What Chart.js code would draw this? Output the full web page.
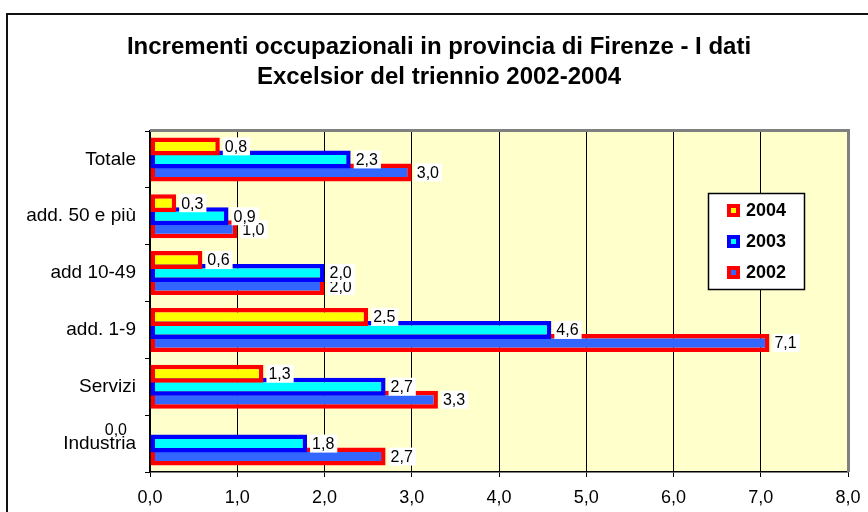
<!DOCTYPE html>
<html>
<head>
<meta charset="utf-8">
<script src="https://cdn.jsdelivr.net/npm/chart.js@4.4.0/dist/chart.umd.min.js"></script>
<style>
html,body{margin:0;padding:0;background:#fff;overflow:hidden;}
#wrap{width:868px;height:512px;}
</style>
</head>
<body>
<div id="wrap"><canvas id="chart" width="868" height="512"></canvas></div>
<script>
// ----- dati -----
const categorie = ["Totale", "add. 50 e più", "add 10-49", "add. 1-9", "Servizi", "Industria"];
const anno2004 = [0.8, 0.3, 0.6, 2.5, 1.3, 0.0];
const anno2003 = [2.3, 0.9, 2.0, 4.6, 2.7, 1.8];
const anno2002 = [3.0, 1.0, 2.0, 7.1, 3.3, 2.7];
const titolo = ["Incrementi occupazionali in provincia di Firenze - I dati", "Excelsior del triennio 2002-2004"];

const FONT = "'Liberation Sans', Arial, sans-serif";
const virgola = v => Number(v).toFixed(1).replace(".", ",");

// sfondo, cornice e bordo grigio dell'area
const sfondo = {
  id: "sfondo",
  afterLayout(c) {
    // lascia spazio alle etichette lunghe dell'asse y (niente taglio)
    const y = c.scales.y;
    y.left = 0;
    y.width = y.right;
  },
  beforeDraw(c) {
    const ctx = c.ctx, a = c.chartArea;
    ctx.save();
    ctx.fillStyle = "#fff";
    ctx.fillRect(0, 0, c.width, c.height);
    ctx.strokeStyle = "#111";
    ctx.lineWidth = 2;
    ctx.beginPath();
    ctx.moveTo(7, c.height + 5);
    ctx.lineTo(7, 14);
    ctx.lineTo(c.width + 5, 14);
    ctx.stroke();
    ctx.fillStyle = "#FFFFCC";
    ctx.fillRect(a.left, a.top, a.right - a.left, a.bottom - a.top);
    ctx.restore();
  },
  beforeDatasetsDraw(c) {
    const ctx = c.ctx, a = c.chartArea;
    ctx.save();
    ctx.strokeStyle = "#808080";
    ctx.lineWidth = 3;
    ctx.beginPath();
    ctx.moveTo(a.left, a.top - 0.5);
    ctx.lineTo(a.right + 0.5, a.top - 0.5);
    ctx.lineTo(a.right + 0.5, a.bottom);
    ctx.stroke();
    ctx.restore();
  }
};

// etichette con sfondo bianco (prima 2002, poi 2003, poi 2004)
const etichette = {
  id: "etichette",
  afterDatasetsDraw(c) {
    const ctx = c.ctx;
    ctx.save();
    ctx.font = "16px " + FONT;
    ctx.textBaseline = "middle";
    for (let d = c.data.datasets.length - 1; d >= 0; d--) {
      const meta = c.getDatasetMeta(d);
      meta.data.forEach((bar, i) => {
        const v = c.data.datasets[d].data[i];
        const txt = virgola(v);
        const w = ctx.measureText(txt).width;
        if (v === 0) {
          ctx.textAlign = "right";
          ctx.fillStyle = "#000";
          ctx.fillText(txt, bar.x - 23, bar.y);
          return;
        }
        ctx.fillStyle = "#fff";
        ctx.fillRect(bar.x + 3, bar.y - 9, w + 5, 18);
        ctx.textAlign = "left";
        ctx.fillStyle = "#000";
        ctx.fillText(txt, bar.x + 5, bar.y + 1);
      });
    }
    ctx.restore();
  }
};

// legenda dentro l'area del grafico
const legenda = {
  id: "legenda",
  afterDraw(c) {
    const ctx = c.ctx;
    const x = 708, y = 193, w = 96, h = 96;
    ctx.save();
    ctx.fillStyle = "#fff";
    ctx.fillRect(x, y, w, h);
    ctx.strokeStyle = "#000";
    ctx.lineWidth = 1.5;
    ctx.strokeRect(x + 0.5, y + 0.5, w, h);
    ctx.font = "bold 18px " + FONT;
    ctx.textBaseline = "middle";
    ctx.textAlign = "left";
    c.data.datasets.forEach((ds, i) => {
      const ry = y + 17 + i * 31;
      ctx.fillStyle = ds.borderColor;
      ctx.fillRect(x + 19, ry - 6, 13, 13);
      ctx.fillStyle = ds.backgroundColor;
      ctx.fillRect(x + 23, ry - 2, 5, 5);
      ctx.fillStyle = "#000";
      ctx.fillText(ds.label, x + 38, ry + 1);
    });
    ctx.restore();
  }
};

new Chart(document.getElementById("chart"), {
  type: "bar",
  data: {
    labels: categorie,
    datasets: [
      { label: "2004", data: anno2004, backgroundColor: "#FFFF00", borderColor: "#FF0000" },
      { label: "2003", data: anno2003, backgroundColor: "#00FFFF", borderColor: "#0000FF" },
      { label: "2002", data: anno2002, backgroundColor: "#3366FF", borderColor: "#FF0000" }
    ]
  },
  options: {
    indexAxis: "y",
    responsive: false,
    animation: false,
    datasets: {
      bar: { borderWidth: 4.5, borderSkipped: false, categoryPercentage: 0.687, barPercentage: 1.38 }
    },
    layout: { padding: { left: 30, right: 20, top: 0, bottom: 0 } },
    plugins: {
      legend: { display: false },
      tooltip: { enabled: false },
      title: {
        display: true,
        text: titolo,
        color: "#000",
        font: { family: FONT, size: 24, weight: "bold", lineHeight: 1.25 },
        padding: { top: 32, bottom: 39 }
      }
    },
    scales: {
      x: {
        min: 0, max: 8,
        ticks: { stepSize: 1, callback: v => virgola(v), color: "#000", font: { family: FONT, size: 18 }, padding: 10 },
        grid: { color: "#000", tickLength: 5, lineWidth: 1 },
        border: { color: "#000", width: 1.5 },
        afterFit(s) { s.height = 40; s.paddingLeft = 0; s.paddingRight = 0; }
      },
      y: {
        ticks: { color: "#000", font: { family: FONT, size: 19 }, padding: 9 },
        grid: { drawOnChartArea: false, tickLength: 5, color: "#000" },
        border: { color: "#000", width: 1.5 },
        afterFit(s) { s.width = 120; }
      }
    }
  },
  plugins: [sfondo, etichette, legenda]
});
</script>
</body>
</html>
